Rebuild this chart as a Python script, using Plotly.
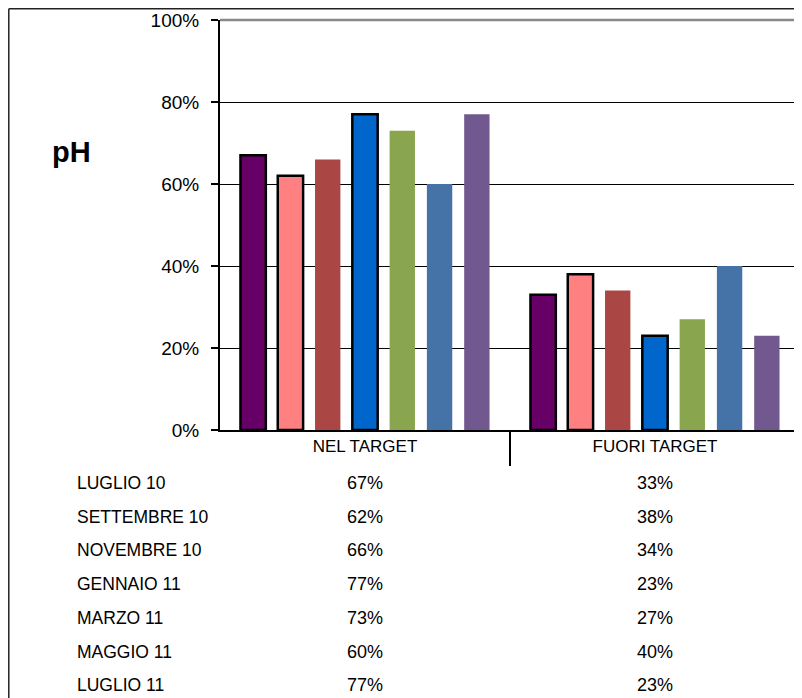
import plotly.graph_objects as go

categories = ["NEL TARGET", "FUORI TARGET"]
series_names = ["LUGLIO 10", "SETTEMBRE 10", "NOVEMBRE 10", "GENNAIO 11",
                "MARZO 11", "MAGGIO 11", "LUGLIO 11"]
nel_target = [67, 62, 66, 77, 73, 60, 77]
fuori_target = [33, 38, 34, 23, 27, 40, 23]
colors = ["#660066", "#FF8080", "#AA4643", "#0066CC", "#89A54E", "#4572A7", "#71588F"]
outlined = [True, True, False, True, False, False, False]
y_ticks = [0, 0.2, 0.4, 0.6, 0.8, 1.0]

OFF = 8  # page body margin
W, H = 794, 690
L, R, T, B = 212, 2, 12, 268
PW, PH = W - L - R, H - T - B

def px_to_xp(px):
    return (px - OFF - L) / PW

def px_to_yp(py):
    return (H - B - (py - OFF)) / PH

fig = go.Figure()
for i, name in enumerate(series_names):
    fig.add_trace(go.Bar(
        x=categories,
        y=[nel_target[i] / 100, fuori_target[i] / 100],
        name=name,
        marker=dict(color=colors[i],
                    line=dict(color="black", width=2.5 if outlined[i] else 0)),
    ))

font = "Liberation Sans, Arial, sans-serif"
annotations = []
row0, pitch = 483, 33.7
for i, name in enumerate(series_names):
    yp = px_to_yp(row0 + pitch * i)
    annotations.append(dict(x=px_to_xp(75), y=yp, xref="paper", yref="paper",
                            text=name, showarrow=False, xanchor="left", yanchor="middle",
                            font=dict(family=font, size=17.5, color="black")))
    annotations.append(dict(x=categories[0], y=yp, xref="x", yref="paper",
                            text=f"{nel_target[i]}%", showarrow=False,
                            xanchor="center", yanchor="middle",
                            font=dict(family=font, size=18, color="black")))
    annotations.append(dict(x=categories[1], y=yp, xref="x", yref="paper",
                            text=f"{fuori_target[i]}%", showarrow=False,
                            xanchor="center", yanchor="middle",
                            font=dict(family=font, size=18, color="black")))

annotations.append(dict(x=px_to_xp(71), y=px_to_yp(152), xref="paper", yref="paper",
                        text="<b>pH</b>", showarrow=False, xanchor="center", yanchor="middle",
                        font=dict(family=font, size=29, color="black")))

shapes = [
    dict(type="line", xref="paper", yref="paper", x0=0, x1=1, y0=1, y1=1,
         line=dict(color="#888888", width=2.5)),
    dict(type="line", xref="paper", yref="paper", x0=1, x1=1, y0=0, y1=1,
         line=dict(color="#888888", width=2.5)),
    dict(type="line", xref="paper", yref="paper", x0=0.5, x1=0.5,
         y0=0, y1=px_to_yp(466), line=dict(color="black", width=2)),
    dict(type="line", xref="paper", yref="paper", x0=px_to_xp(8.8), x1=px_to_xp(810),
         y0=px_to_yp(8.8), y1=px_to_yp(8.8), line=dict(color="#222222", width=1.5)),
    dict(type="line", xref="paper", yref="paper", x0=px_to_xp(8.8), x1=px_to_xp(8.8),
         y0=px_to_yp(8.8), y1=px_to_yp(710), line=dict(color="#222222", width=1.5)),
]

fig.update_layout(
    width=W, height=H,
    margin=dict(l=L, r=R, t=T, b=B),
    paper_bgcolor="white", plot_bgcolor="white",
    barmode="group", bargap=0.1, bargroupgap=0.32,
    showlegend=False,
    font=dict(family=font, color="black"),
    annotations=annotations,
    shapes=shapes,
)
fig.update_xaxes(
    showline=True, linecolor="black", linewidth=2,
    ticks="", tickfont=dict(size=17, family=font, color="black"),
    showgrid=False,
)
fig.update_yaxes(
    range=[0, 1], tickvals=y_ticks, tickformat=".0%",
    showline=True, linecolor="black", linewidth=2,
    ticks="outside", ticklen=7, tickcolor="black", tickwidth=1.5,
    showgrid=True, gridcolor="black", gridwidth=1,
    tickfont=dict(size=19, family=font, color="black"),
    zeroline=False, ticklabelstandoff=8,
)

fig.write_html("out.html")
